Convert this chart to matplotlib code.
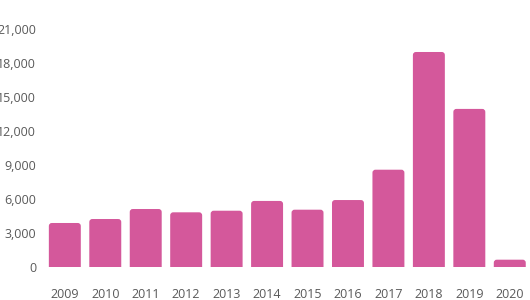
import numpy as np
from matplotlib import pyplot as plt
from matplotlib.patches import FancyBboxPatch
from matplotlib.ticker import FuncFormatter

years = ['2009', '2010', '2011', '2012', '2013', '2014', '2015', '2016', '2017', '2018', '2019', '2020']
counts = [3900, 4250, 5130, 4840, 4980, 5840, 5070, 5920, 8590, 18950, 13940, 670]
yticks = [0, 3000, 6000, 9000, 12000, 15000, 18000, 21000]

bar_color = '#d4589b'
text_color = '#595959'

plt.rcParams['font.family'] = ['Open Sans', 'DejaVu Sans']

fig = plt.figure(figsize=(5.3, 3.0), dpi=100)
ax = fig.add_axes([44.6 / 530, 1 - 267.3 / 300, (530 - 44.6) / 530, (267.3 - 28.7) / 300])

x = np.arange(len(years))
bars = ax.bar(x, counts, width=0.79, color=bar_color)
ax.set_xlim(-0.5, len(years) - 0.5)
ax.set_ylim(0, 21000)

# rounded tops: redraw each bar as a rounded box, start it below zero so the
# axes clip squares off the bottom corners
aspect = 264 / 0.074
for b in bars:
    b.set_visible(False)
    x0, w, h = b.get_x(), b.get_width(), b.get_height()
    ax.add_patch(FancyBboxPatch((x0, -400), w, h + 400, boxstyle="round,pad=0,rounding_size=0.074",
                                mutation_aspect=aspect, fc=bar_color, ec='none'))

ax.set_xticks(x, years)
ax.set_yticks(yticks)
ax.yaxis.set_major_formatter(FuncFormatter(lambda v, p: f"{int(v):,}"))
ax.tick_params(axis='x', length=0, pad=15, labelsize=9, labelcolor=text_color)
ax.tick_params(axis='y', length=0, pad=6, labelsize=9, labelcolor=text_color)
for s in ax.spines.values():
    s.set_visible(False)

fig.savefig('out.png', dpi=100)
